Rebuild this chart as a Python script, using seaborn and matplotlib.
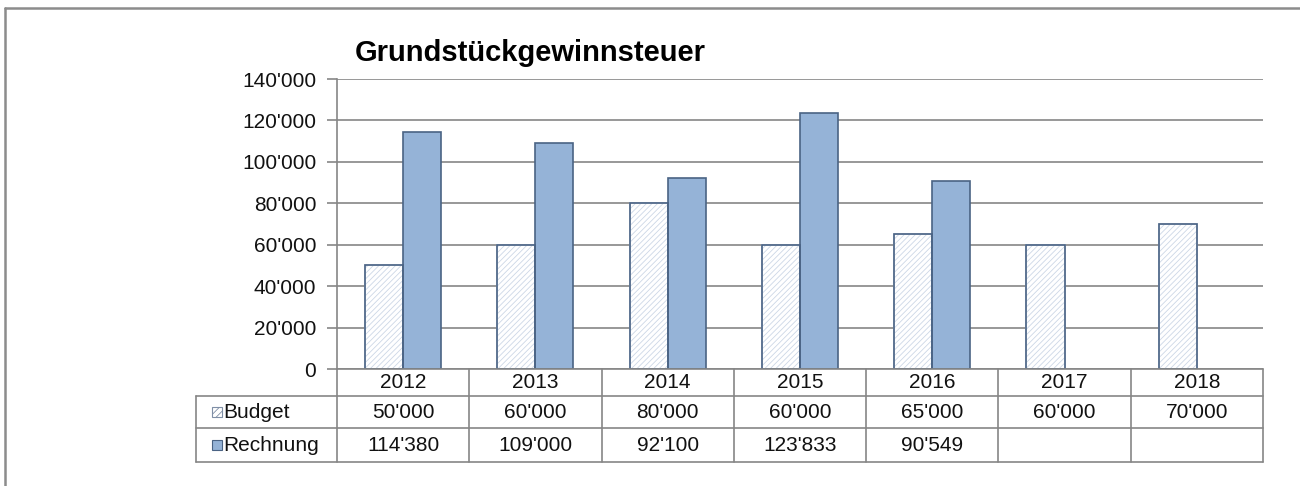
import matplotlib
matplotlib.use("Agg")
import matplotlib.pyplot as plt
import matplotlib.transforms as mtransforms
from matplotlib.patches import Rectangle
from matplotlib.lines import Line2D
import seaborn as sns
import pandas as pd

sns.set_theme(style="white")
plt.rcParams['font.family'] = ['Liberation Sans', 'DejaVu Sans']
plt.rcParams['hatch.linewidth'] = 0.6

# data
years = ['2012', '2013', '2014', '2015', '2016', '2017', '2018']
budget = [50000, 60000, 80000, 60000, 65000, 60000, 70000]
rechnung = [114380, 109000, 92100, 123833, 90549, None, None]
series = ['Budget', 'Rechnung']
title = 'Grundstückgewinnsteuer'

def fmt(v):
    if v is None:
        return ''
    return '{:,}'.format(int(v)).replace(',', "'")

df = pd.DataFrame({'Jahr': years * 2,
                   'Serie': ['Budget'] * len(years) + ['Rechnung'] * len(years),
                   'Wert': budget + rechnung})

edge = '#4A6384'
grid_col = '#868686'
txt_col = '#111111'

fig = plt.figure(figsize=(13, 4.86), dpi=100)
ax = fig.add_axes([0.2592, 0.2407, 0.7123, 0.5967])

sns.barplot(data=df, x='Jahr', y='Wert', hue='Serie', order=years,
            hue_order=series, palette=['white', '#95B3D7'], width=0.575,
            edgecolor=edge, linewidth=1.2, saturation=1, legend=False, ax=ax)

# hatch the budget bars
for bar in ax.containers[0]:
    bar.set_hatch('//////')
    bar.set_edgecolor('#CCD7E6')
    # outline drawn separately so the hatch can stay light
    ax.add_patch(Rectangle(bar.get_xy(), bar.get_width(), bar.get_height(),
                           fill=False, edgecolor=edge, linewidth=1.2, zorder=bar.get_zorder() + 0.1))

ax.set_xlim(-0.5, len(years) - 0.5)
ax.set_ylim(0, 140000)
ax.set_yticks(range(0, 140001, 20000))
ax.set_yticklabels([fmt(v) for v in range(0, 140001, 20000)], fontsize=15, color=txt_col)
ax.set_xticks([])
ax.set_xlabel('')
ax.set_ylabel('')
ax.yaxis.grid(True, color=grid_col, linewidth=1.2)
ax.set_axisbelow(True)
ax.tick_params(axis='y', left=True, length=7, width=1.2, color=grid_col, pad=8)
for s in ['top', 'right', 'bottom']:
    ax.spines[s].set_visible(False)
ax.spines['left'].set_color(grid_col)
ax.spines['left'].set_linewidth(1.2)

# data table under the plot
n = len(years)
trans = mtransforms.blended_transform_factory(ax.transData, ax.transAxes)
ax_h = 290.0
rows_y = [0, -27 / ax_h, -59 / ax_h, -93 / ax_h]
lab_x = -0.5 - 141 / (926 / n)
lkw = dict(color=grid_col, linewidth=1.2, transform=trans, clip_on=False)
ax.plot([-0.5, n - 0.5], [0, 0], **lkw)
for y in rows_y[1:]:
    ax.plot([lab_x, n - 0.5], [y, y], **lkw)
ax.plot([lab_x, lab_x], [rows_y[1], rows_y[3]], **lkw)
for i in range(n + 1):
    ax.plot([i - 0.5, i - 0.5], [0, rows_y[3]], **lkw)

for i, yr in enumerate(years):
    ax.text(i, (rows_y[0] + rows_y[1]) / 2, yr, transform=trans, ha='center',
            va='center', fontsize=15, color=txt_col)
    ax.text(i, (rows_y[1] + rows_y[2]) / 2, fmt(budget[i]), transform=trans,
            ha='center', va='center', fontsize=15, color=txt_col)
    ax.text(i, (rows_y[2] + rows_y[3]) / 2, fmt(rechnung[i]), transform=trans,
            ha='center', va='center', fontsize=15, color=txt_col)

# legend keys inside the table
px = 926 / n
for k, name in enumerate(series):
    yc = (rows_y[k + 1] + rows_y[k + 2]) / 2
    sq = 10 / ax_h
    key = Rectangle((lab_x + 16 / px, yc - sq / 2), 10 / px, sq, transform=trans,
                    clip_on=False, facecolor='white' if k == 0 else '#95B3D7',
                    edgecolor=edge if k == 1 else '#7F8FA6', linewidth=0.8,
                    hatch='/////' if k == 0 else None)
    ax.add_patch(key)
    ax.text(lab_x + 27 / px, yc, name, transform=trans, ha='left', va='center',
            fontsize=15, color=txt_col)

fig.text(355 / 1300, 1 - 53 / 486, title, fontsize=21, fontweight='bold',
         ha='left', va='center', color='black')

# outer frame: only top and left edges are in view
fx, fy = 4.5 / 1300, 1 - 8.5 / 486
fig.add_artist(Line2D([fx, 1.0], [fy, fy], transform=fig.transFigure, color='#8C8C8C', linewidth=1.8))
fig.add_artist(Line2D([fx, fx], [0, fy], transform=fig.transFigure, color='#8C8C8C', linewidth=1.8))

fig.savefig('out.png', dpi=100)
